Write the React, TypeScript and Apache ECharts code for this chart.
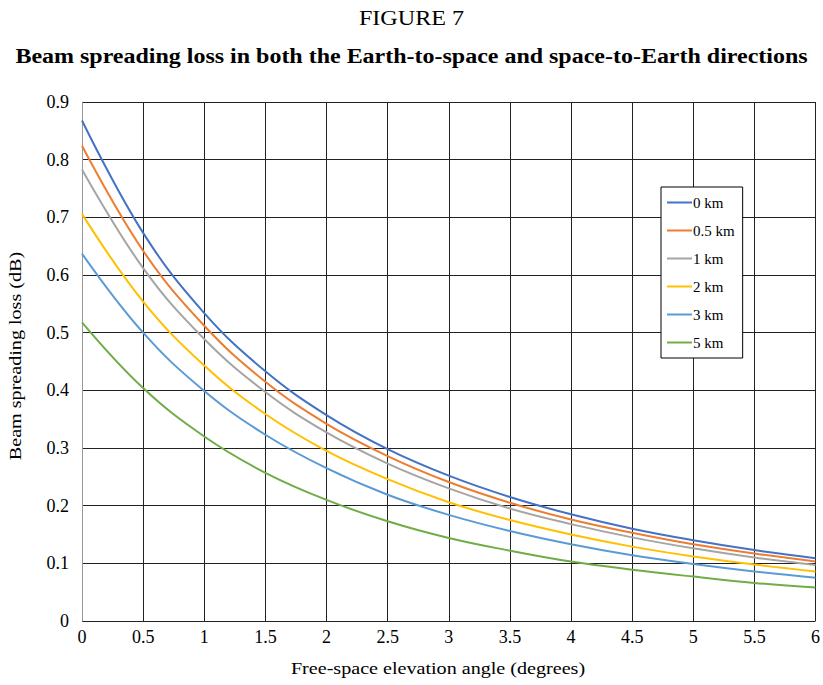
import React, { useEffect, useRef } from "react";
import * as echarts from "echarts";

const angles = [0, 0.5, 1, 1.5, 2, 2.5, 3, 3.5, 4, 4.5, 5, 5.5, 6];
const seriesNames = ["0 km", "0.5 km", "1 km", "2 km", "3 km", "5 km"];
const loss0 = [0.868, 0.673, 0.534, 0.433, 0.357, 0.298, 0.252, 0.215, 0.185, 0.160, 0.140, 0.123, 0.109];
const loss05 = [0.824, 0.642, 0.512, 0.415, 0.342, 0.286, 0.241, 0.205, 0.176, 0.153, 0.133, 0.117, 0.103];
const loss1 = [0.783, 0.612, 0.489, 0.397, 0.327, 0.273, 0.230, 0.195, 0.168, 0.145, 0.126, 0.110, 0.097];
const loss2 = [0.706, 0.554, 0.443, 0.359, 0.295, 0.246, 0.206, 0.175, 0.150, 0.129, 0.112, 0.098, 0.086];
const loss3 = [0.637, 0.500, 0.399, 0.323, 0.265, 0.219, 0.184, 0.156, 0.133, 0.114, 0.099, 0.086, 0.075];
const loss5 = [0.518, 0.404, 0.320, 0.257, 0.210, 0.173, 0.144, 0.122, 0.103, 0.089, 0.077, 0.066, 0.058];
const seriesValues = [loss0, loss05, loss1, loss2, loss3, loss5];
const colors = ["#4472C4", "#ED7D31", "#A5A5A5", "#FFC000", "#5B9BD5", "#70AD47"];

const figureLabel = "FIGURE 7";
const chartTitle = "Beam spreading loss in both the Earth-to-space and space-to-Earth directions";
const xAxisTitle = "Free-space elevation angle (degrees)";
const yAxisTitle = "Beam spreading loss (dB)";

const FONT = "Liberation Serif";

export default function App() {
  const ref = useRef<HTMLDivElement>(null);
  useEffect(() => {
    if (!ref.current) return;
    const chart = echarts.init(ref.current, null, { renderer: "svg" });
    chart.setOption({
      animation: false,
      backgroundColor: "#fff",
      textStyle: { fontFamily: FONT, color: "#000" },
      graphic: [
        {
          type: "text",
          x: 411.5,
          y: 18,
          scaleX: 1.15,
          style: {
            text: figureLabel,
            fontFamily: FONT,
            fontSize: 21,
            fill: "#000",
            align: "center",
            verticalAlign: "middle",
          },
        },
        {
          type: "text",
          x: 411.5,
          y: 56,
          scaleX: 1.17,
          style: {
            text: chartTitle,
            fontFamily: FONT,
            fontSize: 20.5,
            fontWeight: "bold",
            fill: "#000",
            align: "center",
            verticalAlign: "middle",
          },
        },
        {
          type: "text",
          x: 438,
          y: 668,
          scaleX: 1.15,
          style: {
            text: xAxisTitle,
            fontFamily: FONT,
            fontSize: 17.5,
            fill: "#000",
            align: "center",
            verticalAlign: "middle",
          },
        },
        {
          type: "text",
          x: 15,
          y: 356,
          rotation: Math.PI / 2,
          scaleX: 1.15,
          style: {
            text: yAxisTitle,
            fontFamily: FONT,
            fontSize: 17.5,
            fill: "#000",
            align: "center",
            verticalAlign: "middle",
          },
        },
      ],
      legend: {
        orient: "vertical",
        left: 661,
        top: 187,
        data: seriesNames,
        icon: "rect",
        itemWidth: 25,
        itemHeight: 2,
        itemGap: 13,
        padding: [8, 8, 8, 6],
        borderColor: "#000",
        borderWidth: 1,
        backgroundColor: "#fff",
        textStyle: { fontFamily: FONT, fontSize: 15, color: "#000", padding: [0, 0, 0, -4] },
      },
      grid: { left: 82, right: 6, top: 102, bottom: 64, containLabel: false },
      xAxis: {
        type: "value",
        min: 0,
        max: 6,
        interval: 0.5,
        axisLine: { show: false },
        axisTick: { show: false },
        axisLabel: { fontFamily: FONT, fontSize: 18, color: "#000", margin: 7 },
        splitLine: { show: true, lineStyle: { color: "#222", width: 1 } },
      },
      yAxis: {
        type: "value",
        min: 0,
        max: 0.9,
        interval: 0.1,
        axisLine: { show: true, lineStyle: { color: "#999" } },
        axisTick: { show: false },
        axisLabel: {
          fontFamily: FONT,
          fontSize: 18,
          color: "#000",
          margin: 13,
          formatter: (v: number) => (Math.round(v * 10) / 10).toString(),
        },
        splitLine: { show: true, lineStyle: { color: "#222", width: 1 } },
      },
      series: seriesNames.map((name, i) => ({
        name,
        type: "line",
        data: angles.map((a, j) => [a, seriesValues[i][j]]),
        smooth: 0.4,
        showSymbol: false,
        symbol: "none",
        lineStyle: { color: colors[i], width: 2 },
        itemStyle: { color: colors[i] },
        z: 3,
      })),
    });
    return () => chart.dispose();
  }, []);
  return <div ref={ref} style={{ width: 823, height: 685, position: "absolute", left: 0, top: 0 }} />;
}
